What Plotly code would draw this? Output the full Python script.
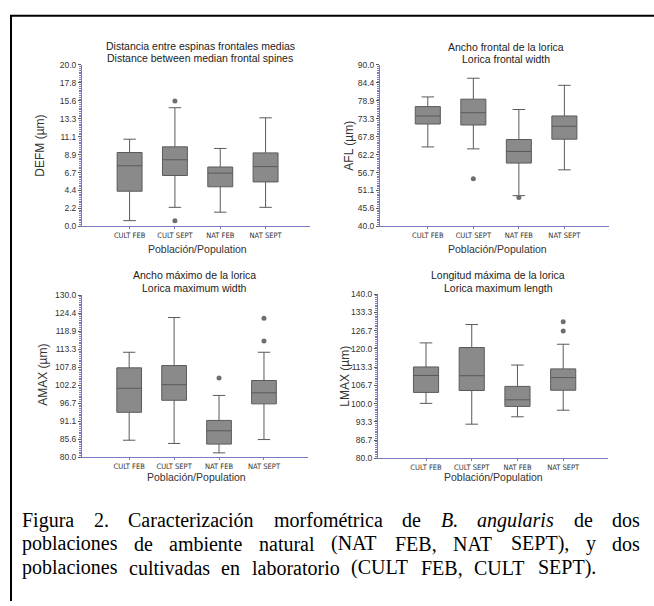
import plotly.graph_objects as go

W, H = 654, 606

categories = ["CULT FEB", "CULT SEPT", "NAT FEB", "NAT SEPT"]

# DEFM - Distancia entre espinas frontales medias
defm_low = [0.7, 2.35, 1.75, 2.35]
defm_q1 = [4.35, 6.3, 4.9, 5.5]
defm_med = [7.5, 8.25, 6.6, 7.4]
defm_q3 = [9.15, 9.85, 7.35, 9.1]
defm_high = [10.8, 14.7, 9.65, 13.45]
defm_out_cat = ["CULT SEPT", "CULT SEPT"]
defm_out_val = [15.55, 0.7]

# AFL - Ancho frontal de la lorica
afl_low = [64.6, 64.0, 49.5, 57.5]
afl_q1 = [71.7, 71.4, 59.6, 67.0]
afl_med = [74.2, 75.2, 63.2, 71.0]
afl_q3 = [77.1, 79.4, 66.9, 74.2]
afl_high = [80.1, 85.9, 76.2, 83.7]
afl_out_cat = ["CULT SEPT", "NAT FEB"]
afl_out_val = [54.7, 48.9]

# AMAX - Ancho maximo de la lorica
amax_low = [85.3, 84.3, 81.4, 85.5]
amax_q1 = [93.9, 97.6, 84.1, 96.5]
amax_med = [101.3, 102.4, 88.2, 99.9]
amax_q3 = [107.6, 108.3, 91.4, 103.7]
amax_high = [112.4, 123.1, 99.1, 112.4]
amax_out_cat = ["NAT FEB", "NAT SEPT", "NAT SEPT"]
amax_out_val = [104.5, 122.9, 115.9]

# LMAX - Longitud maxima de la lorica
lmax_low = [100.1, 92.5, 95.2, 97.6]
lmax_q1 = [104.1, 104.8, 99.0, 104.9]
lmax_med = [110.3, 110.2, 101.4, 109.5]
lmax_q3 = [113.4, 120.5, 106.3, 112.7]
lmax_high = [122.2, 128.9, 114.1, 121.7]
lmax_out_cat = ["NAT SEPT", "NAT SEPT"]
lmax_out_val = [129.9, 126.5]

y_ranges = [(0.0, 20.0), (40.0, 90.0), (80.0, 130.0), (80.0, 140.0)]
y_titles = ["DEFM (µm)", "AFL (µm)", "AMAX (µm)", "LMAX (µm)"]
titles_es = ["Distancia entre espinas frontales medias", "Ancho frontal de la lorica",
             "Ancho máximo de la lorica", "Longitud máxima de la lorica"]
titles_en = ["Distance between median frontal spines", "Lorica frontal width",
             "Lorica maximum width", "Lorica maximum length"]
x_title = "Población/Population"

caption_lines = [
    [("Figura", False), ("2.", False), ("Caracterización", False), ("morfométrica", False),
     ("de", False), ("B.", True), ("angularis", True), ("de", False), ("dos", False)],
    [("poblaciones", False), ("de", False), ("ambiente", False), ("natural", False),
     ("(NAT", False), ("FEB,", False), ("NAT", False), ("SEPT),", False), ("y", False), ("dos", False)],
    [("poblaciones", False), ("cultivadas", False), ("en", False), ("laboratorio", False),
     ("(CULT", False), ("FEB,", False), ("CULT", False), ("SEPT).", False)],
]

# ---------------- layout helpers (pixel -> paper) ----------------
def px(x):
    return x / W

def py(y):
    return 1 - y / H

# plot areas in pixels: (x0, x1, ytop, ybottom)
areas = [(82, 310, 61, 225), (380, 609, 61, 225), (82, 308, 295, 460), (378, 608, 294, 461)]
ytitle_pos = [(40, 143), (349, 143), (43, 376), (345, 377)]
xtitle_pos = [(197, 248), (497, 248), (196, 480), (494, 480)]
title_pos = [(200, 42, 54), (506, 43, 55), (194, 275, 288), (498, 275, 288)]

datasets = [
    (defm_low, defm_q1, defm_med, defm_q3, defm_high, defm_out_cat, defm_out_val),
    (afl_low, afl_q1, afl_med, afl_q3, afl_high, afl_out_cat, afl_out_val),
    (amax_low, amax_q1, amax_med, amax_q3, amax_high, amax_out_cat, amax_out_val),
    (lmax_low, lmax_q1, lmax_med, lmax_q3, lmax_high, lmax_out_cat, lmax_out_val),
]

AXIS_COLOR = "#7a7ac4"
BOX_FILL = "#8a8a8a"
BOX_LINE = "#5a5a5a"
SANS = "Liberation Sans, Arial, sans-serif"
NARROW = "Liberation Sans Narrow, Arial Narrow, DejaVu Sans Condensed, sans-serif"
SERIF = "Liberation Serif, Times New Roman, serif"

fig = go.Figure()
annotations = []
layout_axes = {}

for i, (low, q1, med, q3, high, ocat, oval) in enumerate(datasets):
    n = "" if i == 0 else str(i + 1)
    xa, ya = "x" + n, "y" + n
    fig.add_trace(go.Box(
        x=categories, q1=q1, median=med, q3=q3, lowerfence=low, upperfence=high,
        boxpoints=False, fillcolor=BOX_FILL, line=dict(color=BOX_LINE, width=1),
        width=0.55, whiskerwidth=0.5, xaxis=xa, yaxis=ya, showlegend=False,
        hoverinfo="skip"))
    fig.add_trace(go.Scatter(
        x=ocat, y=oval, mode="markers", xaxis=xa, yaxis=ya, showlegend=False,
        marker=dict(size=5, color="#6e6e6e"), hoverinfo="skip"))

    x0, x1, yt, yb = areas[i]
    lo, hi = y_ranges[i]
    step = (hi - lo) / 9
    layout_axes["xaxis" + n] = dict(
        domain=[px(x0), px(x1)], anchor=ya, type="category",
        categoryorder="array", categoryarray=categories,
        range=[-1.05, 3.98], showgrid=False, zeroline=False,
        showline=True, linecolor=AXIS_COLOR, linewidth=1,
        ticks="outside", ticklen=2, tickcolor=AXIS_COLOR,
        tickfont=dict(family=NARROW, size=7.5, color="#333"))
    layout_axes["yaxis" + n] = dict(
        domain=[py(yb), py(yt)], anchor=xa, range=[lo, hi],
        tickmode="linear", tick0=lo, dtick=step, tickformat=".1f",
        showgrid=False, zeroline=False, showline=True,
        linecolor=AXIS_COLOR, linewidth=1, ticks="outside", ticklen=3,
        tickcolor="#555", tickfont=dict(family=SANS, size=8.5, color="#333"),
        minor=dict(dtick=step / 10, tick0=lo, ticks="outside", ticklen=2,
                   tickcolor=AXIS_COLOR, showgrid=False))

    tx, ty1, ty2 = title_pos[i]
    annotations.append(dict(text=titles_es[i], x=px(tx), y=py(ty1), xref="paper", yref="paper",
                            showarrow=False, xanchor="center", yanchor="middle",
                            font=dict(family=SANS, size=10.5, color="#222")))
    annotations.append(dict(text=titles_en[i], x=px(tx), y=py(ty2), xref="paper", yref="paper",
                            showarrow=False, xanchor="center", yanchor="middle",
                            font=dict(family=SANS, size=10.5, color="#222")))
    yx, yy = ytitle_pos[i]
    annotations.append(dict(text=y_titles[i], x=px(yx), y=py(yy), xref="paper", yref="paper",
                            showarrow=False, textangle=-90, xanchor="center", yanchor="middle",
                            font=dict(family=SANS, size=12, color="#333")))
    xx, xy = xtitle_pos[i]
    annotations.append(dict(text=x_title, x=px(xx), y=py(xy), xref="paper", yref="paper",
                            showarrow=False, xanchor="center", yanchor="middle",
                            font=dict(family=SANS, size=10.5, color="#333")))

# ---------------- caption (justified, Times metrics) ----------------
TIMES = {
    'a': 444, 'b': 500, 'c': 444, 'd': 500, 'e': 444, 'f': 333, 'g': 500, 'h': 500, 'i': 278,
    'j': 278, 'k': 500, 'l': 278, 'm': 778, 'n': 500, 'o': 500, 'p': 500, 'q': 500, 'r': 333,
    's': 389, 't': 278, 'u': 500, 'v': 500, 'w': 722, 'x': 500, 'y': 500, 'z': 444,
    'á': 444, 'é': 444, 'í': 278, 'ó': 500, 'ú': 500,
    'A': 722, 'B': 667, 'C': 667, 'D': 722, 'E': 611, 'F': 556, 'G': 722, 'H': 722, 'I': 333,
    'L': 611, 'M': 889, 'N': 722, 'O': 722, 'P': 556, 'R': 667, 'S': 556, 'T': 611, 'U': 722,
    '.': 250, ',': 250, '(': 333, ')': 333, '2': 500,
}
TIMES_IT = dict(TIMES)
TIMES_IT.update({'a': 500, 'g': 500, 'r': 389, 'B': 611, 'n': 500, 'u': 500})

CAP_SIZE = 20
cap_left = 20
cap_right = [638, 638, 594]
cap_mid_y = [524, 548, 572]

def wwidth(word, italic):
    table = TIMES_IT if italic else TIMES
    return sum(table.get(c, 500) for c in word) * CAP_SIZE / 1000.0

for li, words in enumerate(caption_lines):
    widths = [wwidth(w, it) for w, it in words]
    gap = (cap_right[li] - cap_left - sum(widths)) / (len(words) - 1)
    x = cap_left
    for (w, it), ww in zip(words, widths):
        txt = "<i>%s</i>" % w if it else w
        annotations.append(dict(text=txt, x=px(x), y=py(cap_mid_y[li]), xref="paper", yref="paper",
                                showarrow=False, xanchor="left", yanchor="middle",
                                font=dict(family=SERIF, size=CAP_SIZE, color="#000")))
        x += ww + gap

shapes = [
    dict(type="line", xref="paper", yref="paper", x0=px(11), x1=px(11), y0=0, y1=py(11),
         line=dict(color="black", width=2)),
    dict(type="line", xref="paper", yref="paper", x0=px(10), x1=1, y0=py(11), y1=py(11),
         line=dict(color="black", width=2)),
]

fig.update_layout(
    width=W, height=H, margin=dict(l=0, r=0, t=0, b=0),
    paper_bgcolor="white", plot_bgcolor="white",
    annotations=annotations, shapes=shapes, showlegend=False,
    **layout_axes)

fig.write_html("out.html",
               config={"displayModeBar": False, "staticPlot": True},
               post_script="document.body.style.margin='0';document.body.style.overflow='hidden';")
